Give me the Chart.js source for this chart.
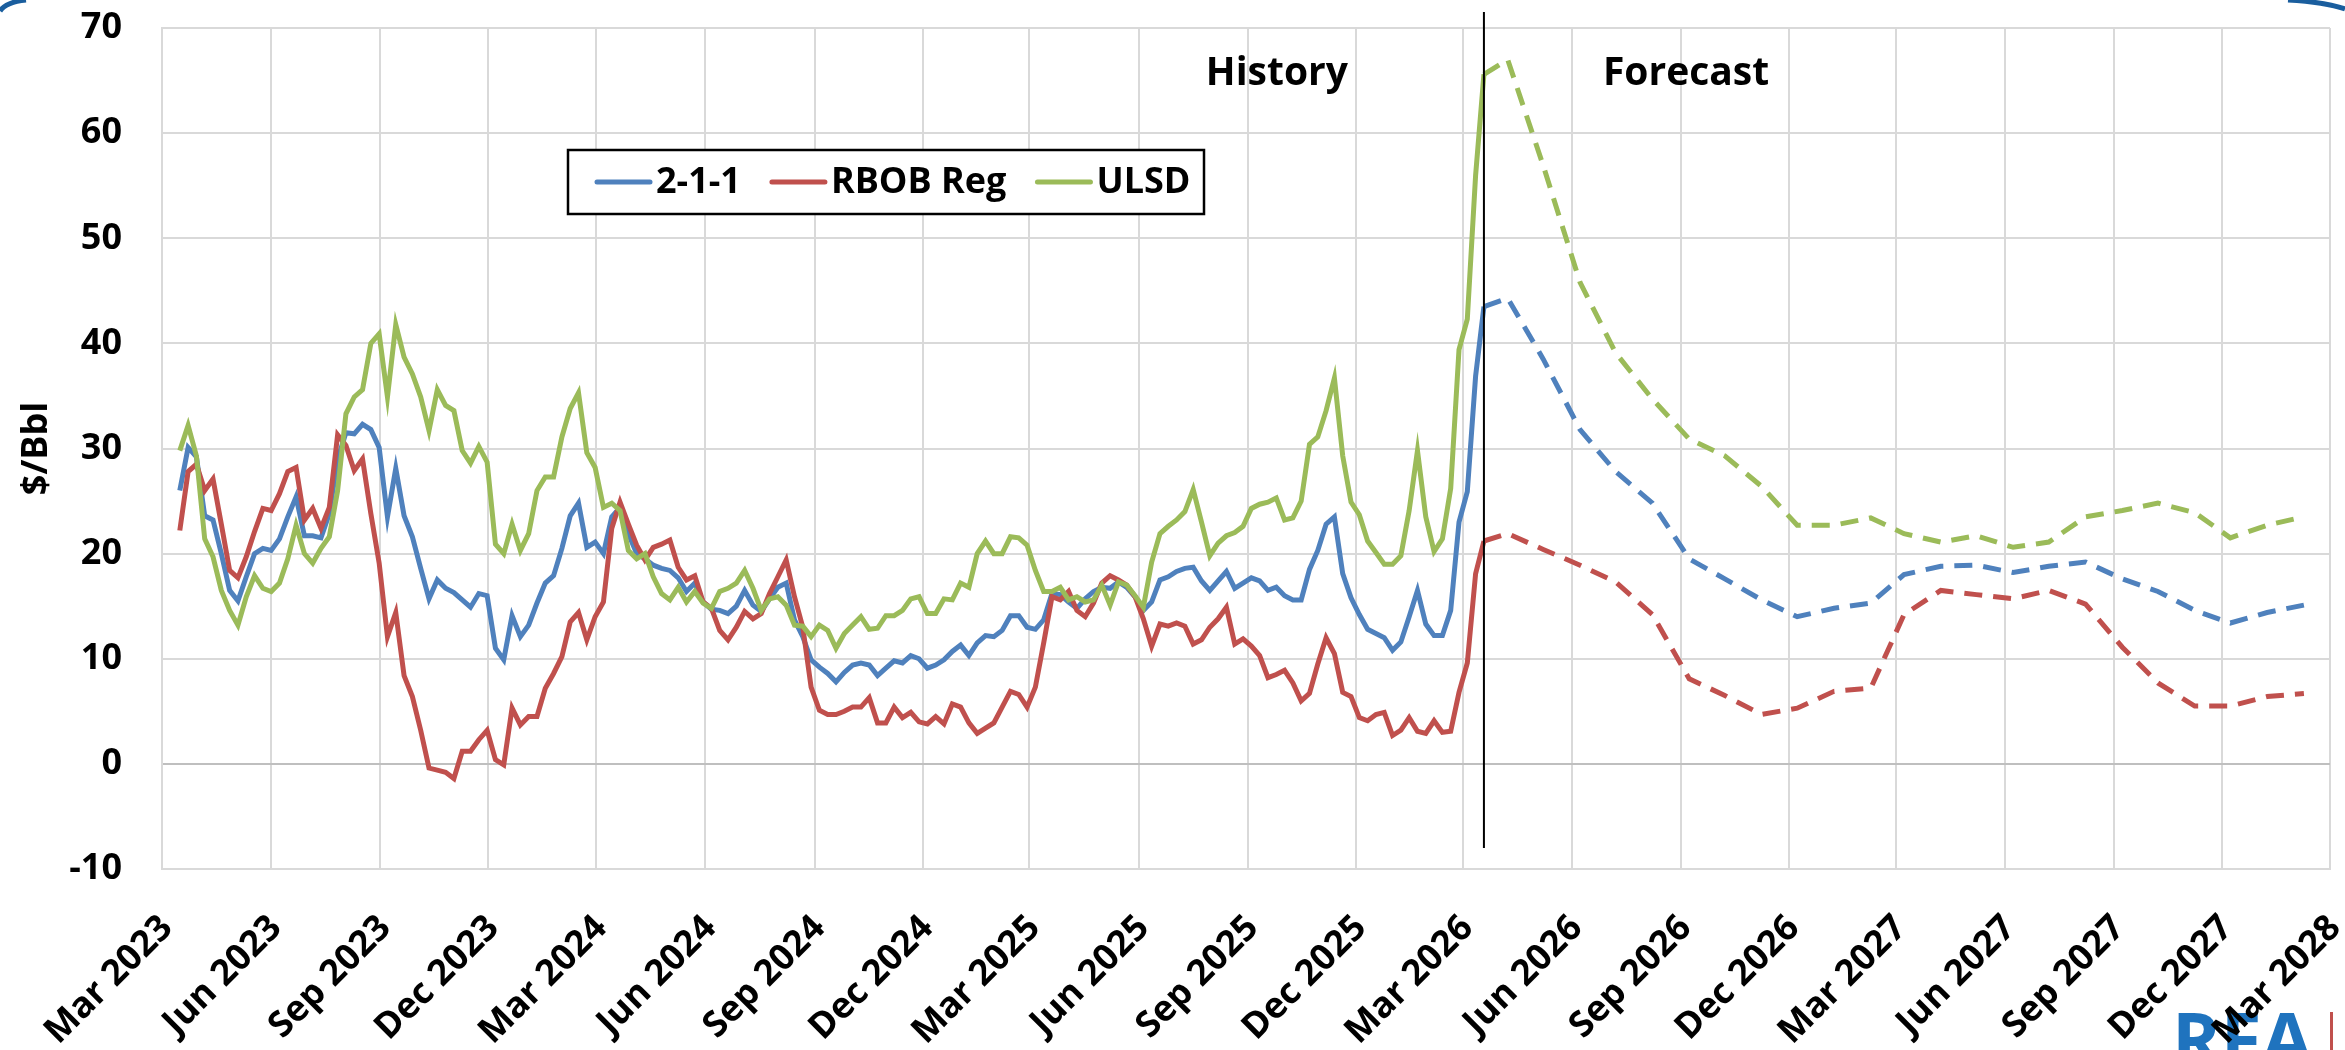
<!DOCTYPE html>
<html>
<head>
<meta charset="utf-8">
<title>2-1-1, RBOB Reg and ULSD cracks</title>
<script src="https://cdn.jsdelivr.net/npm/chart.js@4.4.1/dist/chart.umd.min.js"></script>
<style>
  html, body { margin: 0; padding: 0; background: #fff; }
  #wrap { width: 2345px; height: 1050px; }
</style>
</head>
<body>
<div id="wrap"><canvas id="chart" width="2345" height="1050"></canvas></div>
<script>
// quarterly ticks on the date axis
const tickLabels = [
  "Mar 2023", "Jun 2023", "Sep 2023", "Dec 2023",
  "Mar 2024", "Jun 2024", "Sep 2024", "Dec 2024",
  "Mar 2025", "Jun 2025", "Sep 2025", "Dec 2025",
  "Mar 2026", "Jun 2026", "Sep 2026", "Dec 2026",
  "Mar 2027", "Jun 2027", "Sep 2027", "Dec 2027",
  "Mar 2028"
];

// weekly history, first week below
const historyStart = "2023-03-16";

const crack211Hist = [
  26.0, 30.1, 29.2, 23.6, 23.2, 20.0, 16.5, 15.5, 17.8, 20.0,
  20.5, 20.3, 21.4, 23.5, 25.4, 21.7, 21.7, 21.5, 23.8, 29.0,
  31.5, 31.4, 32.3, 31.8, 30.1, 23.5, 28.1, 23.6, 21.6, 18.6,
  15.7, 17.5, 16.7, 16.3, 15.6, 14.9, 16.2, 16.0, 11.0,
  9.9, 14.1, 12.1, 13.2, 15.3, 17.2, 17.9, 20.5, 23.6, 24.8,
  20.6, 21.1, 20.0, 23.5, 24.4, 21.9, 20.0, 19.5, 18.9, 18.6,
  18.4, 17.7, 16.4, 17.2, 15.4, 14.7, 14.6, 14.3, 15.0, 16.5,
  15.1, 14.5, 15.7, 16.8, 17.2, 13.7, 12.1, 9.9, 9.2,
  8.6, 7.8, 8.7, 9.4, 9.6, 9.4, 8.4, 9.1, 9.8, 9.6,
  10.3, 10.0, 9.1, 9.4, 9.9, 10.7, 11.3, 10.3, 11.5, 12.2,
  12.1, 12.7, 14.1, 14.1, 13.0, 12.8, 13.7, 16.2, 16.1, 15.4,
  14.8, 15.7, 16.4, 16.8, 16.7, 17.3, 16.8, 15.9, 14.6,
  15.4, 17.5, 17.8, 18.3, 18.6, 18.7, 17.4, 16.5, 17.4, 18.3,
  16.7, 17.2, 17.7, 17.4, 16.5, 16.8, 16.0, 15.6, 15.6, 18.5,
  20.3, 22.8, 23.5, 18.1, 15.8, 14.2, 12.8, 12.4, 12.0, 10.8,
  11.6, 14.0, 16.5, 13.3, 12.2, 12.2, 14.6, 23.0, 25.9, 36.9,
  43.5
];

const rbobHist = [
  22.2, 27.8, 28.5, 26.0, 27.1, 22.8, 18.4, 17.7, 19.7, 22.1,
  24.3, 24.1, 25.7, 27.8, 28.2, 23.2, 24.3, 22.4, 24.4, 31.3,
  30.3, 27.9, 29.0, 23.8, 19.1, 12.1, 14.4, 8.4, 6.4, 3.2,
  -0.4, -0.6, -0.8, -1.4, 1.2, 1.2, 2.3, 3.2, 0.4,
  -0.1, 5.3, 3.7, 4.5, 4.5, 7.2, 8.6, 10.2, 13.5, 14.4,
  11.8, 14.0, 15.4, 22.4, 24.9, 22.8, 20.8, 19.4, 20.6, 20.9,
  21.3, 18.7, 17.5, 17.9, 15.4, 14.8, 12.7, 11.8, 13.0, 14.5,
  13.8, 14.3, 16.2, 17.8, 19.4, 15.9, 13.0, 7.3, 5.1,
  4.7, 4.7, 5.0, 5.4, 5.4, 6.3, 3.9, 3.9, 5.4, 4.4,
  4.9, 4.0, 3.8, 4.5, 3.8, 5.7, 5.4, 3.9, 2.9, 3.4,
  3.9, 5.4, 6.9, 6.6, 5.4, 7.3, 11.5, 15.9, 15.6, 16.4,
  14.6, 14.0, 15.3, 17.2, 17.9, 17.5, 17.0, 15.9, 13.8,
  11.2, 13.3, 13.1, 13.4, 13.1, 11.4, 11.8, 13.0, 13.8, 14.9,
  11.4, 11.9, 11.2, 10.3, 8.2, 8.5, 8.9, 7.7, 6.0, 6.7,
  9.5, 12.0, 10.5, 6.8, 6.4, 4.4, 4.1, 4.7, 4.9, 2.7,
  3.2, 4.4, 3.1, 2.9, 4.1, 3.0, 3.1, 6.8, 9.6, 18.1,
  21.2
];

const ulsdHist = [
  29.8, 32.2, 29.3, 21.4, 19.7, 16.5, 14.6, 13.2, 15.9, 17.9,
  16.7, 16.4, 17.2, 19.5, 22.7, 20.0, 19.1, 20.5, 21.6, 26.0,
  33.3, 34.9, 35.6, 40.0, 40.9, 34.9, 41.8, 38.7, 37.1, 34.9,
  31.7, 35.6, 34.1, 33.6, 29.8, 28.6, 30.2, 28.7, 20.9,
  20.0, 22.8, 20.3, 21.9, 26.0, 27.3, 27.3, 31.1, 33.8, 35.3,
  29.6, 28.2, 24.4, 24.8, 24.1, 20.3, 19.5, 20.0, 17.8, 16.2,
  15.6, 16.8, 15.4, 16.4, 15.3, 14.8, 16.4, 16.7, 17.2, 18.4,
  16.7, 14.6, 15.7, 15.9, 15.1, 13.2, 13.1, 12.1, 13.2,
  12.7, 11.0, 12.4, 13.2, 14.0, 12.8, 12.9, 14.1, 14.1, 14.6,
  15.7, 15.9, 14.3, 14.3, 15.7, 15.6, 17.2, 16.8, 20.0, 21.2,
  20.0, 20.0, 21.6, 21.5, 20.8, 18.4, 16.4, 16.4, 16.8, 15.6,
  15.9, 15.4, 15.6, 17.0, 15.1, 17.3, 17.0, 16.0, 14.9,
  19.2, 21.9, 22.6, 23.2, 24.0, 26.1, 23.0, 19.8, 21.0, 21.7,
  22.0, 22.6, 24.3, 24.7, 24.9, 25.3, 23.2, 23.4, 25.0, 30.4,
  31.1, 33.6, 36.7, 29.3, 24.9, 23.7, 21.2, 20.1, 19.0, 19.0,
  19.8, 24.1, 29.8, 23.5, 20.2, 21.4, 26.2, 39.4, 42.3, 56.0,
  65.6
];

// monthly forecast
const forecastMonths = [
  "Apr 2026", "May 2026", "Jun 2026", "Jul 2026", "Aug 2026", "Sep 2026",
  "Oct 2026", "Nov 2026", "Dec 2026", "Jan 2027", "Feb 2027", "Mar 2027",
  "Apr 2027", "May 2027", "Jun 2027", "Jul 2027", "Aug 2027", "Sep 2027",
  "Oct 2027", "Nov 2027", "Dec 2027", "Jan 2028", "Feb 2028"
];
const crack211Fcst = [44.3, 38.5, 31.8, 27.8, 24.8, 19.5, 17.6, 15.6, 14.0, 14.8, 15.3, 18.0,
                      18.8, 18.9, 18.2, 18.8, 19.2, 17.6, 16.4, 14.6, 13.4, 14.4, 15.1];
const rbobFcst     = [21.9, 20.4, 18.9, 17.3, 14.2, 8.1, 6.5, 4.7, 5.3, 6.9, 7.2, 14.2,
                      16.5, 16.1, 15.7, 16.5, 15.2, 11.1, 7.7, 5.5, 5.5, 6.4, 6.7];
const ulsdFcst     = [67.0, 56.9, 45.8, 39.1, 34.7, 30.9, 29.3, 26.4, 22.7, 22.7, 23.4, 21.9,
                      21.1, 21.7, 20.6, 21.1, 23.5, 24.1, 24.8, 23.9, 21.5, 22.7, 23.5];

////////////////////////////////////////////////////////////////////////////////////

const MONTHS = ["Jan", "Feb", "Mar", "Apr", "May", "Jun", "Jul", "Aug", "Sep", "Oct", "Nov", "Dec"];
const DAY = 86400000;
const origin = Date.UTC(2023, 2, 1);

function monthToDay(label, d) {
    const [mon, yr] = label.split(" ");
    return (Date.UTC(+yr, MONTHS.indexOf(mon), d) - origin) / DAY;
}

const tickValues = tickLabels.map(l => monthToDay(l, 1));
const firstWeek = (Date.parse(historyStart) - origin) / DAY;
const histX = crack211Hist.map((_, i) => firstWeek + 7 * i);
const fcstX = forecastMonths.map(l => monthToDay(l, 8));
const lastX = histX[histX.length - 1];

const hist = vals => vals.map((v, i) => ({ x: histX[i], y: v }));
const fcst = (h, vals) => [{ x: lastX, y: h[h.length - 1] }].concat(vals.map((v, i) => ({ x: fcstX[i], y: v })));

const BLUE = "#4f81bd", RED = "#c0504d", GREEN = "#9bbb59";
const FONT = "'Open Sans', 'DejaVu Sans', sans-serif";

function lineSet(label, data, color, order, dashed) {
    return {
        label: label,
        data: data,
        borderColor: color,
        backgroundColor: color,
        borderWidth: 5,
        borderDash: dashed ? [18, 11] : [],
        pointRadius: 0,
        tension: 0,
        fill: false,
        order: order,
        inLegend: !dashed
    };
}

////////////////////////////////////////////////////////////////////////////////////

const overlay = {
    id: "overlay",
    beforeDraw(chart) {
        const ctx = chart.ctx;
        ctx.save();
        // bits of the slide frame and logo
        ctx.fillStyle = "#1f73be";
        ctx.font = "bold 74px " + FONT;
        ctx.textBaseline = "alphabetic";
        ctx.fillText("RFA", 2172, 1066);
        ctx.fillStyle = "#c0504d";
        ctx.fillRect(2330, 1012, 3, 38);
        ctx.strokeStyle = "#1a5e9e";
        ctx.lineWidth = 5;
        ctx.beginPath();
        ctx.moveTo(0, 11);
        ctx.quadraticCurveTo(6, 2, 26, 0);
        ctx.stroke();
        ctx.beginPath();
        ctx.moveTo(2288, 0);
        ctx.quadraticCurveTo(2325, 2, 2345, 9);
        ctx.stroke();
        ctx.restore();
    },
    afterDatasetsDraw(chart) {
        const { ctx, chartArea, scales: { x, y } } = chart;
        const divX = x.getPixelForValue(lastX);
        ctx.save();

        // history / forecast divider
        ctx.strokeStyle = "#000";
        ctx.lineWidth = 2;
        ctx.beginPath();
        ctx.moveTo(divX, chartArea.top - 16);
        ctx.lineTo(divX, y.getPixelForValue(-8));
        ctx.stroke();

        ctx.fillStyle = "#000";
        ctx.font = "bold 39px " + FONT;
        ctx.textBaseline = "alphabetic";
        ctx.textAlign = "right";
        ctx.fillText("History", divX - 136, chartArea.top + 57);
        ctx.textAlign = "left";
        ctx.fillText("Forecast", divX + 119, chartArea.top + 57);

        // legend box
        const lx = chartArea.left + 406, ly = chartArea.top + 122, lw = 636, lh = 64;
        ctx.fillStyle = "#fff";
        ctx.fillRect(lx, ly, lw, lh);
        ctx.strokeStyle = "#000";
        ctx.lineWidth = 2.5;
        ctx.strokeRect(lx, ly, lw, lh);

        ctx.font = "bold 36px " + FONT;
        ctx.textAlign = "left";
        let cx = lx + 29;
        const cy = ly + lh / 2;
        chart.data.datasets.filter(ds => ds.inLegend).forEach(ds => {
            ctx.strokeStyle = ds.borderColor;
            ctx.lineWidth = 5;
            ctx.lineCap = "round";
            ctx.beginPath();
            ctx.moveTo(cx, cy);
            ctx.lineTo(cx + 53, cy);
            ctx.stroke();
            cx += 59;
            ctx.fillStyle = "#000";
            ctx.fillText(ds.label, cx, ly + 43);
            cx += ctx.measureText(ds.label).width + 31;
        });
        ctx.restore();
    }
};

const chart = new Chart(document.querySelector("#chart"), {
    type: "line",
    data: {
        datasets: [
            lineSet("2-1-1", hist(crack211Hist), BLUE, 3, false),
            lineSet("RBOB Reg", hist(rbobHist), RED, 2, false),
            lineSet("ULSD", hist(ulsdHist), GREEN, 1, false),
            lineSet("2-1-1 forecast", fcst(crack211Hist, crack211Fcst), BLUE, 3, true),
            lineSet("RBOB Reg forecast", fcst(rbobHist, rbobFcst), RED, 2, true),
            lineSet("ULSD forecast", fcst(ulsdHist, ulsdFcst), GREEN, 1, true)
        ]
    },
    options: {
        responsive: false,
        animation: false,
        devicePixelRatio: 1,
        layout: { padding: { left: 10, right: 15, top: 28, bottom: 0 } },
        plugins: {
            legend: { display: false },
            tooltip: { enabled: false }
        },
        scales: {
            x: {
                type: "linear",
                min: tickValues[0],
                max: tickValues[tickValues.length - 1],
                afterBuildTicks: scale => {
                    scale.ticks = tickValues.map(v => ({ value: v }));
                },
                afterFit: scale => {
                    scale.height = 181;
                    scale.paddingLeft = 0;
                    scale.paddingRight = 0;
                },
                grid: { color: "#d9d9d9", lineWidth: 2, drawTicks: false },
                border: { display: true, color: "#d9d9d9", width: 2 },
                ticks: {
                    autoSkip: false,
                    minRotation: 45,
                    maxRotation: 45,
                    padding: 38,
                    labelOffset: 5,
                    color: "#000",
                    font: { family: FONT, size: 36, weight: "bold" },
                    callback: (value, index) => tickLabels[index]
                }
            },
            y: {
                min: -10,
                max: 70,
                afterFit: scale => {
                    scale.width = 152;
                    scale.paddingTop = 0;
                    scale.paddingBottom = 0;
                },
                grid: {
                    color: c => (c.tick && c.tick.value === 0 ? "#bfbfbf" : "#d9d9d9"),
                    lineWidth: 2,
                    drawTicks: false
                },
                border: { display: true, color: "#d9d9d9", width: 2 },
                ticks: {
                    stepSize: 10,
                    padding: 40,
                    color: "#000",
                    font: { family: FONT, size: 36, weight: "bold" }
                },
                title: {
                    display: true,
                    text: "$/Bbl",
                    color: "#000",
                    padding: { top: 5, bottom: 0 },
                    font: { family: FONT, size: 36, weight: "bold" }
                }
            }
        }
    },
    plugins: [overlay]
});
</script>
</body>
</html>
